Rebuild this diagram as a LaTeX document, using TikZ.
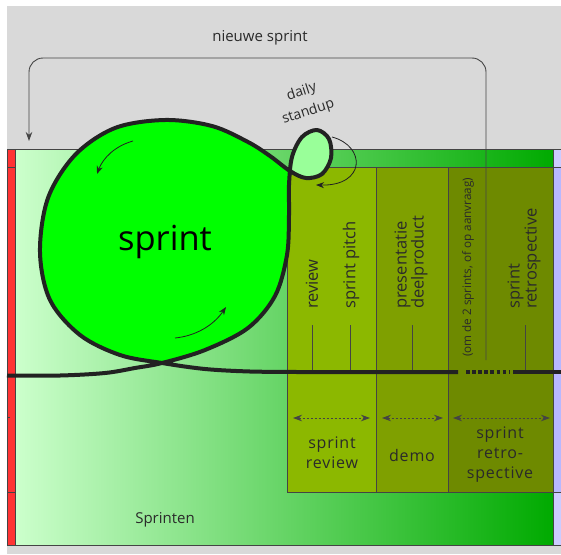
\documentclass[tikz,border=0pt]{standalone}
\usepackage{fontspec}
\setmainfont{Open Sans}
\newfontfamily\wide[LetterSpace=5]{Open Sans}
\usetikzlibrary{arrows.meta}

\definecolor{bggray}{HTML}{D9D9D9}
\definecolor{redstrip}{HTML}{FF3333}
\definecolor{lavender}{HTML}{B8B8FF}
\definecolor{lavlight}{HTML}{CCCCFF}
\definecolor{greenlight}{HTML}{CCFFCC}
\definecolor{greendark}{HTML}{00AA00}
\definecolor{olivea}{HTML}{8CB800}
\definecolor{oliveb}{HTML}{7FA000}
\definecolor{olivec}{HTML}{6E8A00}
\definecolor{inkgray}{HTML}{222222}
\definecolor{edgegray}{HTML}{444444}
\definecolor{textgray}{HTML}{2A2A2A}
\definecolor{sprintgreen}{HTML}{00FF00}
\definecolor{standupgreen}{HTML}{99FF99}

\tikzset{
  cell/.style={draw=edgegray, line width=0.7pt},
  timeline/.style={draw=inkgray, line width=4pt},
  thinarrow/.style={draw=inkgray, line width=0.8pt, -{Stealth[length=8pt,width=6pt]}},
  tick/.style={draw=edgegray, line width=0.8pt},
  span/.style={draw=edgegray, line width=0.8pt, dash pattern=on 2pt off 2pt,
    {Stealth[length=9pt,width=6.5pt]}-{Stealth[length=9pt,width=6.5pt]}},
  vlabel/.style={rotate=90, anchor=west, font=\fontsize{16.5}{17}\selectfont,
    inner sep=0pt, align=left, text=textgray},
  blabel/.style={font=\wide\fontsize{16}{20}\selectfont, align=center, text=textgray},
}

\begin{document}
\begin{tikzpicture}[x=1pt, y=-1pt]
  \useasboundingbox (0,0) rectangle (561,554);
  \fill[bggray] (7,6) rectangle (561,554);

  % band with the sprints
  \shade[left color=greenlight, right color=greendark] (15,149) rectangle (553,545);
  \fill[redstrip] (7,149) rectangle (15,545);
  \fill[lavlight] (553,149) rectangle (561,167);
  \fill[lavender] (553,167) rectangle (561,492);
  \fill[lavlight] (553,492) rectangle (561,545);
  \draw[cell] (7,149) rectangle (15,545);
  \draw[cell] (553,149) rectangle (561,545);
  \draw[cell] (7,149) -- (561,149);
  \draw[cell] (7,545) -- (561,545);
  \foreach \y in {167, 492} {
    \draw[cell] (7,\y) -- (15,\y);
    \draw[cell] (553,\y) -- (561,\y);
  }
  \draw[cell] (7,417) -- (10,417);

  % review, demo, retrospective
  \filldraw[cell, fill=olivea] (287,167) rectangle (376,492);
  \filldraw[cell, fill=oliveb] (376,167) rectangle (448,492);
  \filldraw[cell, fill=olivec] (448,167) rectangle (553,492);

  \node[vlabel] (reviewtxt) at (312,309) {review};
  \node[vlabel] (pitchtxt) at (351,309) {sprint pitch};
  \node[vlabel] (demotxt) at (411,309) {presentatie\\deelproduct};
  \node[vlabel, font=\fontsize{11.7}{12}\selectfont] (everytxt) at (468,357) {(om de 2 sprints, of op aanvraag)};
  \node[vlabel] (retrotxt) at (524,309) {sprint\\retrospective};
  \foreach \tx in {312, 350, 412, 525}
    \draw[tick] (\tx,325) -- (\tx,371);

  \draw[span] (293,418) -- (370,418);
  \draw[span] (382,418) -- (443,418);
  \draw[span] (453,418) -- (550,418);
  \node[blabel] (reviewlbl) at (332,453) {sprint\\review};
  \node[blabel] (demolbl) at (412,455) {demo};
  \node[blabel] (retrolbl) at (500,455) {sprint\\retro-\\spective};

  % nieuwe sprint
  \coordinate (loopstart) at (486,360);
  \coordinate (loopend) at (29,141);
  \draw[edgegray, line width=0.9pt, rounded corners=14pt, -{Stealth[length=9pt,width=6.5pt]}]
    (loopstart) -- (486,58) -- (29,58) -- (loopend);
  \node[font=\fontsize{15}{17}\selectfont, text=textgray] (nieuwlbl) at (260,38) {nieuwe sprint};

  % the sprint loop
  \fill[sprintgreen] plot[smooth cycle, tension=0.55] coordinates {
    (162,363) (205,350) (248,328) (275,296) (287,255) (289,215) (289,185) (290,171)
    (270,156) (248,142) (212,126) (165,120) (115,128) (75,155) (48,198) (40,252)
    (50,300) (80,335) (120,355)};
  \fill[standupgreen] plot[smooth cycle, tension=0.55] coordinates {
    (290,171) (292,157) (302,137) (317,130) (329,139) (331,158) (322,174) (306,178)};
  \draw[timeline, line join=round] plot[smooth, tension=0.55] coordinates {
    (7,375.5) (60,375.5) (105,373) (135,368) (162,363) (205,350) (248,328) (275,296)
    (287,255) (289,215) (289,185) (292,157) (302,137) (317,130) (329,139) (331,158)
    (322,174) (306,178) (290,171) (270,156) (248,142) (212,126) (165,120) (115,128)
    (75,155) (48,198) (40,252) (50,300) (80,335) (120,355) (162,363) (205,369)
    (250,371.5) (300,372)} -- (458,372);
  \draw[timeline, dash pattern=on 3.5pt off 2.6pt] (466,372) -- (509,372);
  \draw[timeline] (513,372) -- (561,372);

  \draw[thinarrow] (133,141) .. controls (115,146) and (103,158) .. (97,174);
  \draw[thinarrow] (175,338) .. controls (195,336) and (213,326) .. (226,307);
  \draw[thinarrow] (332,137) .. controls (366,146) and (366,186) .. (316,185);

  \node[font=\fontsize{34.5}{36}\selectfont] (sprintlbl) at (165,242) {sprint};
  \node[font=\fontsize{14}{21}\selectfont, rotate=18, align=center, text=textgray, inner sep=0pt]
    (standuplbl) at (305,102) {daily\\standup};
  \node[font=\fontsize{15}{17}\selectfont, text=textgray] (sprintenlbl) at (165,520) {Sprinten};
\end{tikzpicture}
\end{document}
